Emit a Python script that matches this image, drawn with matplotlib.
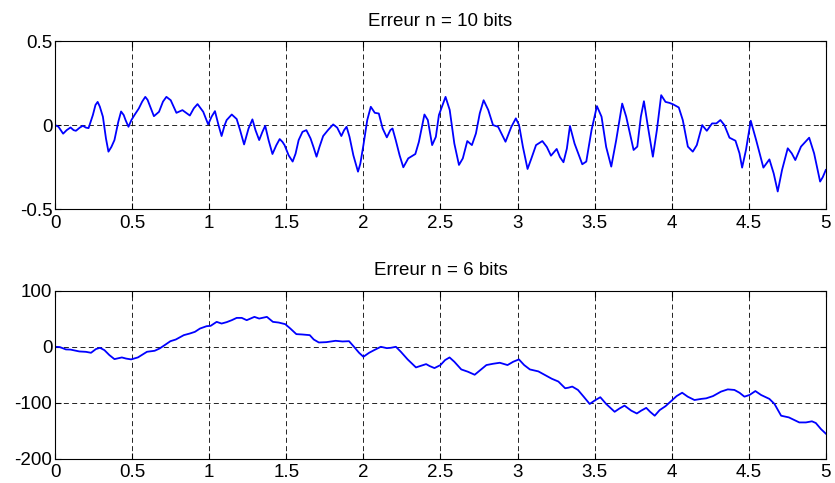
import matplotlib
matplotlib.use("Agg")
import matplotlib.pyplot as plt
import numpy as np

plt.rcParams['font.family'] = ['Liberation Sans', 'DejaVu Sans']
plt.rcParams['axes.unicode_minus'] = False

# erreur de quantification, n = 10 bits
t10 = [0, 0.022, 0.052, 0.075, 0.10, 0.12, 0.135, 0.16, 0.18, 0.20, 0.217, 0.245, 0.262, 0.276,
       0.29, 0.31, 0.33, 0.346, 0.365, 0.385, 0.41, 0.428, 0.445, 0.457, 0.476, 0.495, 0.515,
       0.543, 0.565, 0.585, 0.60, 0.613, 0.641, 0.674, 0.70, 0.722, 0.75, 0.787, 0.826, 0.874,
       0.90, 0.924, 0.961, 0.993, 1.015, 1.037, 1.06, 1.08, 1.10, 1.113, 1.146, 1.178, 1.20,
       1.226, 1.255, 1.28, 1.30, 1.324, 1.345, 1.363, 1.385, 1.41, 1.435, 1.457, 1.475, 1.489,
       1.515, 1.541, 1.56, 1.58, 1.605, 1.63, 1.657, 1.676, 1.696, 1.715, 1.739, 1.77, 1.804,
       1.83, 1.857, 1.875, 1.891, 1.91, 1.935, 1.965, 1.98, 2.0, 2.025, 2.048, 2.074, 2.10,
       2.125, 2.152, 2.175, 2.189, 2.21, 2.235, 2.259, 2.291, 2.337, 2.36, 2.396, 2.418, 2.446,
       2.47, 2.49, 2.533, 2.56, 2.59, 2.62, 2.645, 2.674, 2.704, 2.73, 2.755, 2.78, 2.81, 2.841,
       2.874, 2.922, 2.96, 2.989, 3.01, 3.035, 3.065, 3.09, 3.12, 3.161, 3.19, 3.217, 3.254,
       3.275, 3.298, 3.32, 3.34, 3.37, 3.42, 3.446, 3.48, 3.515, 3.545, 3.575, 3.608, 3.64,
       3.679, 3.705, 3.753, 3.777, 3.80, 3.82, 3.846, 3.878, 3.904, 3.932, 3.96, 3.986, 4.008,
       4.046, 4.072, 4.105, 4.137, 4.163, 4.198, 4.228, 4.262, 4.29, 4.316, 4.342, 4.375, 4.414,
       4.44, 4.457, 4.482, 4.513, 4.548, 4.595, 4.634, 4.662, 4.688, 4.716, 4.753, 4.779, 4.802,
       4.839, 4.892, 4.924, 4.963, 4.98, 5.0]
e10 = [0, -0.01, -0.051, -0.03, -0.014, -0.03, -0.034, -0.015, -0.004, -0.015, -0.018, 0.06,
       0.12, 0.138, 0.11, 0.05, -0.08, -0.158, -0.13, -0.089, 0.02, 0.081, 0.06, 0.03, -0.01,
       0.03, 0.06, 0.099, 0.14, 0.168, 0.15, 0.119, 0.053, 0.079, 0.14, 0.168, 0.148, 0.073,
       0.089, 0.057, 0.10, 0.125, 0.079, 0.004, 0.05, 0.083, 0.0, -0.065, 0.0, 0.03, 0.063,
       0.036, -0.03, -0.115, -0.02, 0.034, -0.03, -0.089, -0.04, -0.004, -0.09, -0.172, -0.12,
       -0.083, -0.10, -0.12, -0.18, -0.217, -0.17, -0.089, -0.04, -0.03, -0.079, -0.13, -0.188,
       -0.13, -0.065, -0.03, 0.004, -0.015, -0.065, -0.03, -0.01, -0.07, -0.18, -0.277, -0.23,
       -0.12, 0.03, 0.109, 0.073, 0.069, -0.02, -0.073, -0.03, -0.02, -0.09, -0.18, -0.251,
       -0.198, -0.172, -0.10, 0.063, 0.03, -0.119, -0.07, 0.06, 0.168, 0.09, -0.11, -0.237,
       -0.198, -0.095, -0.119, -0.05, 0.07, 0.148, 0.09, 0.0, -0.01, -0.099, -0.01, 0.040, 0.0,
       -0.13, -0.261, -0.198, -0.119, -0.095, -0.13, -0.182, -0.142, -0.19, -0.221, -0.14,
       -0.005, -0.11, -0.233, -0.217, -0.03, 0.113, 0.05, -0.13, -0.247, -0.09, 0.128, 0.05,
       -0.148, -0.128, 0.05, 0.142, -0.01, -0.188, -0.03, 0.178, 0.138, 0.132, 0.124, 0.105,
       0.03, -0.128, -0.158, -0.119, 0.0, -0.034, 0.01, 0.01, 0.03, 0.0, -0.075, -0.093, -0.168,
       -0.253, -0.148, 0.026, -0.089, -0.253, -0.204, -0.288, -0.395, -0.267, -0.138, -0.168,
       -0.208, -0.128, -0.075, -0.168, -0.336, -0.31, -0.267]

# erreur de quantification, n = 6 bits
t6 = [0, 0.03, 0.07, 0.10, 0.157, 0.2, 0.233, 0.265, 0.291, 0.32, 0.352, 0.385, 0.433, 0.46,
      0.493, 0.537, 0.596, 0.646, 0.678, 0.711, 0.748, 0.783, 0.835, 0.874, 0.907, 0.94, 0.983,
      1.009, 1.048, 1.08, 1.113, 1.146, 1.178, 1.211, 1.243, 1.293, 1.324, 1.374, 1.413, 1.45,
      1.493, 1.526, 1.565, 1.602, 1.652, 1.678, 1.711, 1.76, 1.82, 1.864, 1.907, 1.939, 1.972,
      2.0, 2.037, 2.07, 2.113, 2.152, 2.178, 2.211, 2.243, 2.287, 2.341, 2.374, 2.407, 2.43,
      2.461, 2.5, 2.53, 2.559, 2.59, 2.635, 2.678, 2.722, 2.754, 2.798, 2.841, 2.885, 2.935,
      2.972, 3.009, 3.043, 3.08, 3.135, 3.178, 3.222, 3.265, 3.309, 3.33, 3.355, 3.392, 3.429,
      3.468, 3.5, 3.537, 3.575, 3.63, 3.662, 3.694, 3.738, 3.774, 3.802, 3.835, 3.86, 3.89,
      3.922, 3.96, 4.0, 4.032, 4.068, 4.104, 4.148, 4.192, 4.224, 4.268, 4.32, 4.364, 4.407,
      4.44, 4.472, 4.505, 4.543, 4.58, 4.634, 4.667, 4.71, 4.76, 4.797, 4.828, 4.871, 4.91,
      4.935, 4.969, 5.0]
e6 = [0, -0.5, -4.7, -5, -8.3, -9, -10.7, -4, -1.8, -6, -14.8, -22, -19, -21, -22.5, -19, -8.9,
      -7.1, -3, 3, 10, 13, 20.8, 23.7, 26.7, 32.6, 36.8, 37.4, 44.5, 41.5, 44, 47.5, 51.6, 51.6,
      47.5, 53.4, 50.4, 53.4, 44.5, 43.3, 40.4, 32.6, 22.6, 22, 20.8, 13, 7.7, 8.3, 10.7, 9.5,
      10, 0, -10.7, -17.8, -10.7, -5.9, 0, -2.4, -1.8, 0, -8.9, -22.5, -36.8, -33.8, -30.9,
      -34.4, -38, -32.6, -23.7, -19, -26.7, -40.4, -44.5, -49.9, -42.7, -32.6, -30.3, -28.5,
      -32.6, -26.7, -22.5, -32.6, -40.4, -43.9, -50.4, -57, -62, -74, -73, -71, -77, -89, -102,
      -96, -90, -102, -116, -110, -105, -114, -119, -114, -109, -116, -123, -113, -106, -96,
      -88, -82, -89, -95, -93, -92, -88, -80, -76, -77, -82, -89, -86, -79, -86, -93, -102,
      -123, -126, -131, -135, -135, -133, -136, -147, -155]

xticks = np.arange(0, 5.01, 0.5)
xlabels = ['0', '0.5', '1', '1.5', '2', '2.5', '3', '3.5', '4', '4.5', '5']

fig = plt.figure(figsize=(8.35, 4.83), dpi=100)
ax1 = fig.add_axes([0.066, 0.567, 0.923, 0.348])
ax2 = fig.add_axes([0.066, 0.050, 0.923, 0.348])

def habiller(ax, titre, yticks, ylabels, ylim):
    ax.set_xlim(0, 5)
    ax.set_ylim(*ylim)
    ax.set_xticks(xticks)
    ax.set_xticklabels(xlabels)
    ax.set_yticks(yticks)
    ax.set_yticklabels(ylabels)
    ax.tick_params(direction='in', length=4, width=0.8, labelsize=13.5,
                   top=True, right=True, color='k')
    ax.tick_params(axis='x', pad=4)
    ax.tick_params(axis='y', pad=2)
    ax.grid(True, color='k', linestyle=(0, (6, 4)), linewidth=0.6)
    for s in ax.spines.values():
        s.set_linewidth(0.8)
    ax.set_title(titre, fontsize=13.5, pad=11)

ax1.plot(t10, e10, color='#0000ff', linewidth=1.3, solid_joinstyle='round')
habiller(ax1, 'Erreur n = 10 bits', [-0.5, 0, 0.5], ['-0.5', '0', '0.5'], (-0.5, 0.5))

ax2.plot(t6, e6, color='#0000ff', linewidth=1.3, solid_joinstyle='round')
habiller(ax2, 'Erreur n = 6 bits', [-200, -100, 0, 100], ['-200', '-100', '0', '100'], (-200, 100))

fig.savefig('out.png', dpi=100)
